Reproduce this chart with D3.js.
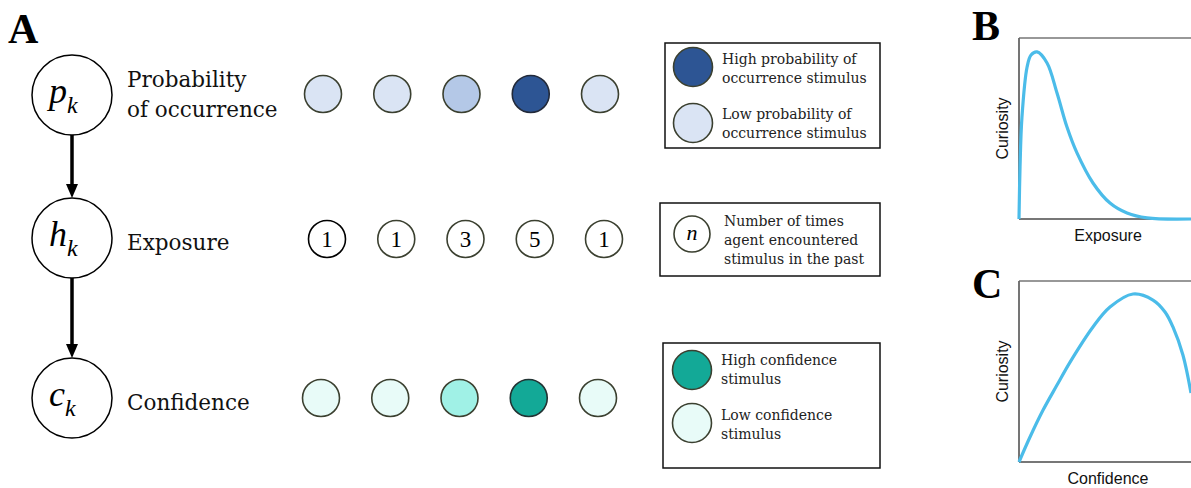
<!DOCTYPE html>
<html><head><meta charset="utf-8">
<script src="https://cdn.jsdelivr.net/npm/d3@7"></script>
<style>body{margin:0;background:#fff}svg{display:block}</style>
</head><body>
<svg id="c" width="1191" height="488"></svg>
<script>
// ---- data ----
const stimuli = ["s1","s2","s3","s4","s5"];
const probabilityLevel = ["low","low","mid","high","low"];
const exposureCounts = [1,1,3,5,1];
const confidenceLevel = ["low","low","mid","high","low"];
const nodeSymbols = ["p","h","c"];
const nodeLabels = [["Probability","of occurrence"],["Exposure"],["Confidence"]];
const probLegend = [["High probability of","occurrence stimulus"],["Low probability of","occurrence stimulus"]];
const expLegend = ["Number of times","agent encountered","stimulus in the past"];
const confLegend = [["High confidence","stimulus"],["Low confidence","stimulus"]];
// curve B: exposure vs curiosity
const exposureX = [0,0.06,0.17,0.47,0.70,1.05,1.63,2.21,2.79,3.37,4.30,5.29,6.28,7.44,10];
const exposureY = [0,0.287,0.56,0.84,0.906,0.923,0.862,0.696,0.508,0.365,0.199,0.088,0.033,0.006,0];
// curve C: confidence vs curiosity
const confidenceX = [0,0.64,1.40,2.21,2.97,4.30,5.29,6.63,7.79,8.49,8.95,9.53,10];
const confidenceY = [0,0.138,0.287,0.425,0.552,0.746,0.856,0.928,0.895,0.829,0.746,0.591,0.381];

const svg = d3.select("#c");
const serif = "DejaVu Serif";
const sans = "Liberation Sans";
const olive = "#3b4030";

// panel letters
const letters = [["A",8,43],["B",972,40],["C",972,298]];
svg.selectAll("text.lt").data(letters).join("text").attr("class","lt")
  .attr("x",d=>d[1]).attr("y",d=>d[2]).text(d=>d[0])
  .attr("font-family","Liberation Serif").attr("font-weight","bold").attr("font-size",42);

// node column
const rowYs = [95,238,398];
const nodeX = 72, nodeR = 40;
nodeSymbols.forEach((s,i)=>{
  const cy = rowYs[i];
  svg.append("circle").attr("cx",nodeX).attr("cy",cy).attr("r",nodeR)
    .attr("fill","#fff").attr("stroke","#000").attr("stroke-width",1.5);
  const t = svg.append("text").attr("x",nodeX-23).attr("y",cy+8)
    .attr("font-family","Liberation Serif").attr("font-style","italic");
  t.append("tspan").attr("font-size",36).text(s);
  t.append("tspan").attr("font-size",24).attr("dy",10).text("k");
  nodeLabels[i].forEach((l,j)=>{
    svg.append("text").attr("x",127).attr("y",(i===0?cy-8:cy+12)+j*30)
      .attr("font-family",serif).attr("font-size",21.5).attr("fill","#111").text(l);
  });
  if(i<2){
    const top = rowYs[i+1]-nodeR;
    svg.append("line").attr("x1",nodeX).attr("x2",nodeX)
      .attr("y1",cy+nodeR).attr("y2",top-12)
      .attr("stroke","#000").attr("stroke-width",3.5);
    svg.append("path").attr("d",`M${nodeX-6},${top-14}L${nodeX+6},${top-14}L${nodeX},${top}Z`).attr("fill","#000");
  }
});

// stimulus rows
const xs = d3.scalePoint().domain(stimuli).range([323,600]);
const probColor = d3.scaleOrdinal().domain(["low","mid","high"]).range(["#dae4f4","#b4c8e7","#2d5594"]);
const confColor = d3.scaleOrdinal().domain(["low","mid","high"]).range(["#e8fbf8","#a0f1e6","#13a997"]);
const R = 18.5;
svg.selectAll("circle.p").data(stimuli).join("circle").attr("class","p")
  .attr("cx",d=>xs(d)).attr("cy",94).attr("r",R)
  .attr("fill",(d,i)=>probColor(probabilityLevel[i]))
  .attr("stroke",(d,i)=>probabilityLevel[i]==="high"?"#222a3a":olive).attr("stroke-width",1.6);
svg.selectAll("circle.e").data(stimuli).join("circle").attr("class","e")
  .attr("cx",d=>xs(d)+4).attr("cy",239).attr("r",18.5)
  .attr("fill","#fff").attr("stroke",(d,i)=>i===0?"#000":olive).attr("stroke-width",1.6);
svg.selectAll("text.e").data(stimuli).join("text").attr("class","e")
  .attr("x",d=>xs(d)+4).attr("y",247).attr("text-anchor","middle")
  .attr("font-family","Liberation Serif").attr("font-size",23).text((d,i)=>exposureCounts[i]);
svg.selectAll("circle.cf").data(stimuli).join("circle").attr("class","cf")
  .attr("cx",d=>xs(d)-2).attr("cy",398).attr("r",R)
  .attr("fill",(d,i)=>confColor(confidenceLevel[i]))
  .attr("stroke",(d,i)=>confidenceLevel[i]==="high"?"#233":olive).attr("stroke-width",1.6);

// legends
function box(x,y,w,h){
  svg.append("rect").attr("x",x).attr("y",y).attr("width",w).attr("height",h)
    .attr("fill","#fff").attr("stroke","#111").attr("stroke-width",1.5);
}
const lfont = 14;
box(665,43,215,105);
probLegend.forEach((lines,i)=>{
  const cy = [67,123][i];
  svg.append("circle").attr("cx",693).attr("cy",cy).attr("r",19.5)
    .attr("fill",probColor(i===0?"high":"low")).attr("stroke",olive).attr("stroke-width",1.6);
  lines.forEach((l,j)=>svg.append("text").attr("x",722).attr("y",[64,119][i]+j*19)
    .attr("font-family",serif).attr("font-size",lfont).attr("fill","#222").text(l));
});
box(660,203,220,73);
svg.append("circle").attr("cx",692).attr("cy",234).attr("r",18)
  .attr("fill","#fff").attr("stroke",olive).attr("stroke-width",1.6);
svg.append("text").attr("x",692).attr("y",240).attr("text-anchor","middle")
  .attr("font-family","Liberation Serif").attr("font-style","italic").attr("font-size",22).text("n");
expLegend.forEach((l,j)=>svg.append("text").attr("x",724).attr("y",226+j*19)
  .attr("font-family",serif).attr("font-size",lfont).attr("fill","#222").text(l));
box(663,343,217,125);
confLegend.forEach((lines,i)=>{
  const cy = [370,423][i];
  svg.append("circle").attr("cx",692).attr("cy",cy).attr("r",19.5)
    .attr("fill",confColor(i===0?"high":"low")).attr("stroke",olive).attr("stroke-width",1.6);
  lines.forEach((l,j)=>svg.append("text").attr("x",721).attr("y",[365,420][i]+j*19)
    .attr("font-family",serif).attr("font-size",lfont).attr("fill","#222").text(l));
});

// curve panels
function panel(top,bottom,xv,yv,xlabel){
  const x = d3.scaleLinear().domain([0,10]).range([1019,1191]);
  const y = d3.scaleLinear().domain([0,1]).range([bottom,top]);
  const g = svg.append("g");
  g.append("line").attr("x1",1019).attr("x2",1200).attr("y1",top).attr("y2",top).attr("stroke","#333").attr("stroke-width",1.2);
  g.append("line").attr("x1",1019).attr("x2",1200).attr("y1",bottom).attr("y2",bottom).attr("stroke","#777").attr("stroke-width",1.8);
  g.append("line").attr("x1",1019).attr("x2",1019).attr("y1",top).attr("y2",bottom).attr("stroke","#666").attr("stroke-width",1.8);
  const line = d3.line().x(d=>x(d[0])).y(d=>y(d[1])).curve(d3.curveCatmullRom.alpha(0.5));
  g.append("path").datum(xv.map((v,i)=>[v,yv[i]])).attr("d",line)
    .attr("fill","none").attr("stroke","#4bbce9").attr("stroke-width",3.2);
  g.append("text").attr("x",1108).attr("y",bottom+22).attr("text-anchor","middle")
    .attr("font-family",sans).attr("font-size",16).attr("fill","#111").text(xlabel);
  g.append("text").attr("transform",`translate(1008,${(top+bottom)/2}) rotate(-90)`)
    .attr("text-anchor","middle").attr("font-family",sans).attr("font-size",16).attr("fill","#111").text("Curiosity");
}
panel(38,219,exposureX,exposureY,"Exposure");
panel(281,462,confidenceX,confidenceY,"Confidence");
</script>
</body></html>
